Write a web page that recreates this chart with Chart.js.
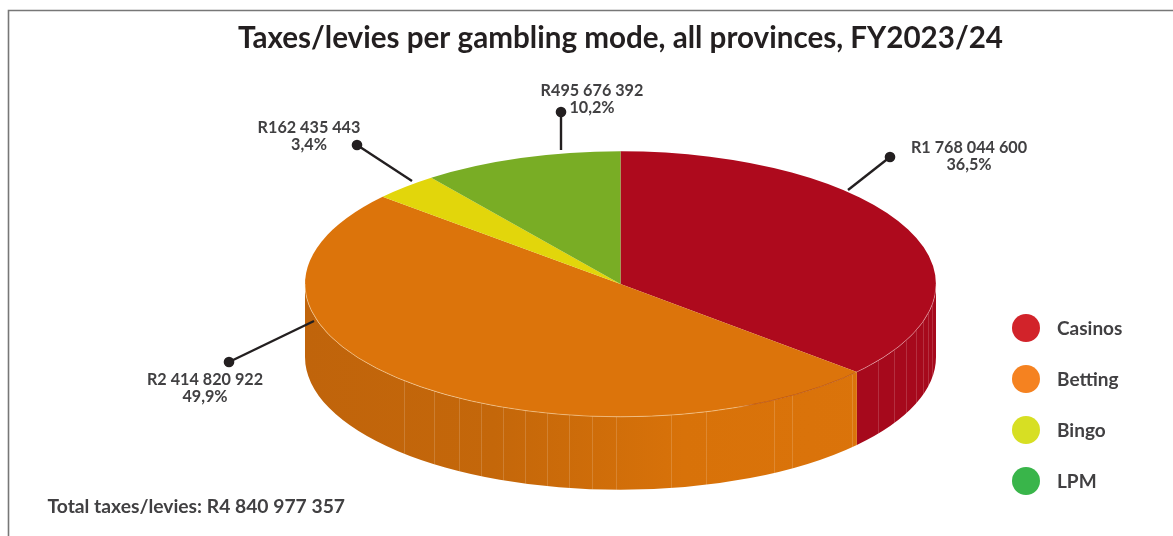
<!DOCTYPE html>
<html>
<head>
<meta charset="utf-8">
<title>Taxes/levies per gambling mode</title>
<script src="https://cdn.jsdelivr.net/npm/chart.js@4/dist/chart.umd.min.js"></script>
<style>
  html, body { margin: 0; padding: 0; background: #fff; }
  canvas { display: block; }
</style>
</head>
<body>
<canvas id="pie" width="1173" height="536"></canvas>
<script>
// data
const categories = ['Casinos', 'Betting', 'Bingo', 'LPM'];
const taxValues = [1768044600, 2414820922, 162435443, 495676392];

// colours
const topColors = ['#ae0a1d', '#dc740b', '#e2d60b', '#79ad25'];
const legendColors = ['#d2232a', '#f58220', '#d7df23', '#39b54a'];
const textColor = '#414042';
const fontFamily = 'Lato, sans-serif';

// pie shape
const pieRadius = 315.5;
const tilt = 132.8 / 315.5;
const wallDepth = 73;

// seams on the side wall, as a fraction of the radius from the centre
const wallSeams = [-0.686, -0.59, -0.511, -0.441, -0.371, -0.302, -0.232, -0.162, -0.089, -0.013,
  0.159, 0.27, 0.486, 0.543, 0.733, 0.816, 0.867, 0.905, 0.937, 0.959, 0.975, 0.987];

// leader lines: from, dot, label centre
const callouts = [
  { from: [848, 190], dot: [890, 157], label: [969, 148] },
  { from: [314, 321], dot: [229, 362], label: [205, 380] },
  { from: [412, 181], dot: [357, 145], label: [309, 128] },
  { from: [561, 150], dot: [561, 112], label: [592, 91] },
];

const total = taxValues.reduce((a, b) => a + b, 0);
const formatRand = (v) => 'R' + String(v).replace(/\B(?=(\d{3})+$)/g, ' ');
const formatShare = (v) => (v / total * 100).toFixed(1).replace('.', ',') + '%';

// legend dots are small canvases so they can be a fixed size
const makeDot = (color) => {
  const c = document.createElement('canvas');
  c.width = 28;
  c.height = 30;
  const g = c.getContext('2d');
  g.fillStyle = color;
  g.beginPath();
  g.arc(14, 14, 14, 0, Math.PI * 2);
  g.fill();
  return c;
};
const legendDots = legendColors.map(makeDot);

const wallFill = (ctx, index, cx) => {
  if (index === 0) return '#a6091c';
  if (index !== 1) return topColors[index];
  const grad = ctx.createLinearGradient(cx - pieRadius, 0, cx + pieRadius, 0);
  grad.addColorStop(0, '#c0640b');
  grad.addColorStop(0.3, '#c4670a');
  grad.addColorStop(0.6, '#d87209');
  grad.addColorStop(1, '#dc740b');
  return grad;
};

const pie3d = {
  id: 'pie3d',
  beforeDraw(chart) {
    // frame along the top and left
    const { ctx } = chart;
    ctx.save();
    ctx.strokeStyle = '#777';
    ctx.lineWidth = 1.6;
    ctx.beginPath();
    ctx.moveTo(8.5, 536);
    ctx.lineTo(8.5, 10.5);
    ctx.lineTo(1173, 10.5);
    ctx.stroke();
    ctx.restore();
  },
  afterLayout(chart) {
    // legend sits in the lower right corner
    chart.legend.left = 972.5;
    chart.legend.top = 287.5;
    chart.legend.right = 1173;
    chart.legend.bottom = 536;
  },
  beforeDatasetsDraw(chart) {
    const { ctx } = chart;
    const arcs = chart.getDatasetMeta(0).data;
    const cx = arcs[0].x;
    const cy = arcs[0].y;
    const rx = arcs[0].outerRadius;
    const ry = rx * tilt;

    // only the front half of each slice shows a wall
    ctx.save();
    arcs.forEach((arc, i) => {
      const a0 = Math.max(arc.startAngle, 0);
      const a1 = Math.min(arc.endAngle, Math.PI);
      if (a1 <= a0) return;
      ctx.fillStyle = wallFill(ctx, i, cx);
      ctx.beginPath();
      ctx.ellipse(cx, cy, rx, ry, 0, a0, a1);
      ctx.ellipse(cx, cy + wallDepth, rx, ry, 0, a1, a0, true);
      ctx.closePath();
      ctx.fill();
    });

    ctx.lineWidth = 0.8;
    ctx.strokeStyle = 'rgba(255,255,255,0.2)';
    wallSeams.forEach((f) => {
      const x = Math.round(cx + f * rx) + 0.5;
      const y = cy + ry * Math.sqrt(1 - f * f);
      ctx.beginPath();
      ctx.moveTo(x, y);
      ctx.lineTo(x, y + wallDepth);
      ctx.stroke();
    });
    ctx.restore();

    // squash the slices into an ellipse
    ctx.save();
    ctx.translate(cx, cy);
    ctx.scale(1, tilt);
    ctx.translate(-cx, -cy);
  },
  afterDatasetsDraw(chart) {
    const { ctx } = chart;
    ctx.restore();

    const arc = chart.getDatasetMeta(0).data[0];
    const cx = arc.x;
    const cy = arc.y;
    const rx = arc.outerRadius;

    // thin rim where the top meets the wall
    const rim = ctx.createLinearGradient(cx - rx, 0, cx + rx, 0);
    rim.addColorStop(0, 'rgba(255,235,200,0.6)');
    rim.addColorStop(0.68, 'rgba(255,235,200,0.6)');
    rim.addColorStop(0.71, 'rgba(175,70,15,0.8)');
    rim.addColorStop(0.87, 'rgba(175,70,15,0.8)');
    rim.addColorStop(0.88, 'rgba(255,220,220,0.5)');
    rim.addColorStop(1, 'rgba(255,220,220,0.5)');
    ctx.save();
    ctx.strokeStyle = rim;
    ctx.lineWidth = 0.8;
    ctx.beginPath();
    ctx.ellipse(cx, cy, rx, rx * tilt, 0, 0, Math.PI);
    ctx.stroke();
    ctx.restore();

    // leader lines and value labels
    ctx.save();
    callouts.forEach((c, i) => {
      ctx.strokeStyle = '#231f20';
      ctx.fillStyle = '#231f20';
      ctx.lineWidth = 2.4;
      ctx.beginPath();
      ctx.moveTo(c.from[0], c.from[1]);
      ctx.lineTo(c.dot[0], c.dot[1]);
      ctx.stroke();
      ctx.beginPath();
      ctx.arc(c.dot[0], c.dot[1], 5.3, 0, Math.PI * 2);
      ctx.fill();

      ctx.fillStyle = textColor;
      ctx.font = 'bold 16.2px ' + fontFamily;
      ctx.textAlign = 'center';
      ctx.textBaseline = 'middle';
      ctx.fillText(formatRand(taxValues[i]), c.label[0], c.label[1]);
      ctx.fillText(formatShare(taxValues[i]), c.label[0], c.label[1] + 17);
    });

    ctx.fillStyle = textColor;
    ctx.font = 'bold 19.3px ' + fontFamily;
    ctx.textAlign = 'left';
    ctx.textBaseline = 'middle';
    ctx.fillText('Total taxes/levies: ' + formatRand(total), 47.5, 506.5);
    ctx.restore();
  },
};

new Chart(document.getElementById('pie'), {
  type: 'pie',
  plugins: [pie3d],
  data: {
    labels: categories,
    datasets: [{
      data: taxValues,
      backgroundColor: topColors,
      borderWidth: 0,
    }],
  },
  options: {
    responsive: false,
    animation: false,
    events: [],
    radius: pieRadius,
    layout: { padding: { left: 68, right: 0, top: 0, bottom: 44 } },
    plugins: {
      tooltip: { enabled: false },
      title: {
        display: true,
        text: 'Taxes/levies per gambling mode, all provinces, FY2023/24',
        color: '#231f20',
        font: { family: fontFamily, size: 29.6, weight: 'bold', lineHeight: 1.2 },
        padding: { top: 20.5, bottom: 20 },
      },
      legend: {
        position: 'chartArea',
        align: 'start',
        labels: {
          usePointStyle: true,
          pointStyleWidth: 43,
          padding: 32,
          color: textColor,
          font: { family: fontFamily, size: 19, weight: 'bold' },
          generateLabels: () => categories.map((name, i) => ({
            text: name,
            pointStyle: legendDots[i],
            fontColor: textColor,
            lineWidth: 0,
            strokeStyle: 'transparent',
            fillStyle: legendColors[i],
            index: i,
          })),
        },
      },
    },
  },
});
</script>
</body>
</html>
